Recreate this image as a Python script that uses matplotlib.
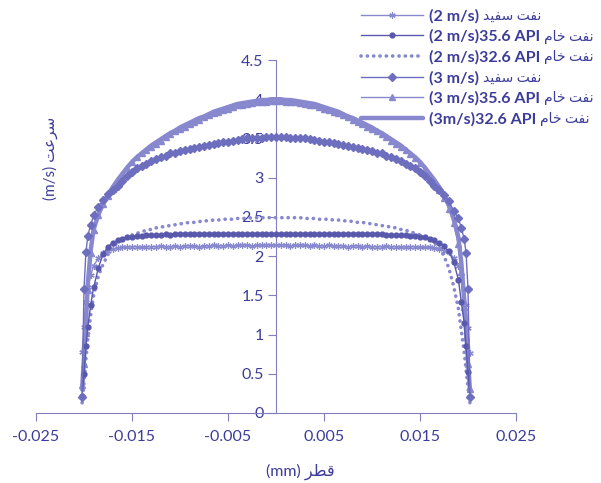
import matplotlib
matplotlib.use("Agg")
import matplotlib.pyplot as plt

# diameter positions (as plotted on the x axis)
x_pos = [-0.0202, -0.0200, -0.0198, -0.0196, -0.0193, -0.0190, -0.0185, -0.0180, -0.0175, -0.0170,
         -0.0165, -0.0160, -0.0155, -0.0150, -0.0145, -0.0140, -0.0135, -0.0130, -0.0125, -0.0120,
         -0.0115, -0.0110, -0.0105, -0.0100, -0.0095, -0.0090, -0.0085, -0.0080, -0.0075, -0.0070,
         -0.0065, -0.0060, -0.0055, -0.0050, -0.0045, -0.0040, -0.0035, -0.0030, -0.0025, -0.0020,
         -0.0015, -0.0010, -0.0005, 0.0, 0.0005, 0.0010, 0.0015, 0.0020, 0.0025, 0.0030,
         0.0035, 0.0040, 0.0045, 0.0050, 0.0055, 0.0060, 0.0065, 0.0070, 0.0075, 0.0080,
         0.0085, 0.0090, 0.0095, 0.0100, 0.0105, 0.0110, 0.0115, 0.0120, 0.0125, 0.0130,
         0.0135, 0.0140, 0.0145, 0.0150, 0.0155, 0.0160, 0.0165, 0.0170, 0.0175, 0.0180,
         0.0185, 0.0190, 0.0193, 0.0196, 0.0198, 0.0200, 0.0202]

white_2 = [0.78, 1.10, 1.42, 1.60, 1.76, 1.88, 1.97, 2.04, 2.07, 2.09,
           2.10, 2.11, 2.11, 2.12, 2.12, 2.11, 2.12, 2.12, 2.12, 2.13,
           2.12, 2.12, 2.13, 2.12, 2.13, 2.13, 2.13, 2.12, 2.13, 2.13,
           2.14, 2.13, 2.13, 2.14, 2.13, 2.14, 2.14, 2.14, 2.13, 2.14,
           2.14, 2.14, 2.14, 2.14, 2.14, 2.14, 2.13, 2.14, 2.14, 2.14,
           2.13, 2.14, 2.13, 2.13, 2.14, 2.13, 2.13, 2.13, 2.12, 2.13,
           2.13, 2.12, 2.13, 2.12, 2.12, 2.12, 2.13, 2.12, 2.12, 2.11,
           2.12, 2.12, 2.12, 2.11, 2.11, 2.11, 2.10, 2.09, 2.07, 2.05,
           1.98, 1.88, 1.75, 1.58, 1.38, 1.08, 0.77]

crude356_2 = [0.22, 0.50, 0.85, 1.10, 1.38, 1.60, 1.85, 2.03, 2.12, 2.17,
              2.20, 2.22, 2.24, 2.25, 2.26, 2.26, 2.27, 2.27, 2.27, 2.27,
              2.28, 2.27, 2.28, 2.28, 2.28, 2.28, 2.28, 2.28, 2.28, 2.28,
              2.28, 2.28, 2.28, 2.28, 2.28, 2.28, 2.28, 2.28, 2.28, 2.28,
              2.28, 2.28, 2.28, 2.28, 2.28, 2.28, 2.28, 2.28, 2.28, 2.28,
              2.28, 2.28, 2.28, 2.28, 2.28, 2.28, 2.28, 2.28, 2.28, 2.28,
              2.28, 2.28, 2.28, 2.28, 2.28, 2.28, 2.27, 2.27, 2.27, 2.27,
              2.27, 2.26, 2.26, 2.25, 2.24, 2.22, 2.20, 2.17, 2.13, 2.06,
              1.93, 1.70, 1.42, 1.15, 0.85, 0.52, 0.20]

crude326_2 = [0.13, 0.38, 0.68, 0.95, 1.25, 1.50, 1.75, 1.90, 2.02, 2.11,
              2.17, 2.21, 2.24, 2.27, 2.29, 2.31, 2.33, 2.34, 2.36, 2.37,
              2.38, 2.39, 2.40, 2.41, 2.42, 2.43, 2.43, 2.44, 2.45, 2.45,
              2.46, 2.46, 2.47, 2.47, 2.47, 2.48, 2.48, 2.48, 2.49, 2.49,
              2.49, 2.49, 2.49, 2.49, 2.49, 2.49, 2.49, 2.49, 2.49, 2.48,
              2.48, 2.48, 2.47, 2.47, 2.47, 2.46, 2.46, 2.45, 2.45, 2.44,
              2.43, 2.43, 2.42, 2.41, 2.40, 2.39, 2.38, 2.37, 2.36, 2.34,
              2.33, 2.31, 2.29, 2.27, 2.24, 2.21, 2.17, 2.11, 2.00, 1.85,
              1.62, 1.33, 1.05, 0.78, 0.55, 0.32, 0.13]

white_3 = [0.20, 1.58, 2.05, 2.26, 2.40, 2.52, 2.63, 2.72, 2.79, 2.84,
           2.90, 2.96, 3.02, 3.07, 3.12, 3.15, 3.18, 3.21, 3.24, 3.26,
           3.28, 3.31, 3.32, 3.34, 3.35, 3.37, 3.38, 3.39, 3.41, 3.42,
           3.43, 3.44, 3.45, 3.46, 3.47, 3.48, 3.49, 3.50, 3.50, 3.51,
           3.51, 3.52, 3.52, 3.52, 3.52, 3.52, 3.51, 3.51, 3.50, 3.50,
           3.49, 3.48, 3.47, 3.46, 3.45, 3.44, 3.43, 3.42, 3.41, 3.39,
           3.38, 3.37, 3.35, 3.34, 3.32, 3.31, 3.28, 3.26, 3.24, 3.21,
           3.18, 3.15, 3.12, 3.07, 3.02, 2.96, 2.90, 2.84, 2.78, 2.70,
           2.58, 2.48, 2.36, 2.22, 2.04, 1.58, 0.20]

crude356_3 = [0.36, 0.62, 1.02, 1.57, 2.04, 2.33, 2.52, 2.67, 2.77, 2.86,
              2.95, 3.03, 3.12, 3.20, 3.26, 3.31, 3.35, 3.39, 3.43, 3.47,
              3.52, 3.56, 3.59, 3.62, 3.65, 3.68, 3.71, 3.74, 3.77, 3.80,
              3.82, 3.84, 3.86, 3.88, 3.90, 3.92, 3.93, 3.94, 3.95, 3.96,
              3.97, 3.97, 3.98, 3.98, 3.98, 3.97, 3.97, 3.96, 3.95, 3.94,
              3.93, 3.92, 3.90, 3.88, 3.86, 3.84, 3.82, 3.80, 3.77, 3.74,
              3.71, 3.68, 3.65, 3.62, 3.59, 3.56, 3.52, 3.47, 3.43, 3.39,
              3.35, 3.30, 3.25, 3.19, 3.11, 3.02, 2.93, 2.84, 2.74, 2.60,
              2.42, 2.15, 1.80, 1.35, 0.97, 0.62, 0.30]

crude326_3 = [0.30, 0.70, 1.15, 1.65, 2.08, 2.34, 2.53, 2.67, 2.78, 2.88,
              2.97, 3.05, 3.13, 3.20, 3.26, 3.31, 3.36, 3.41, 3.45, 3.49,
              3.53, 3.57, 3.60, 3.64, 3.67, 3.70, 3.73, 3.76, 3.78, 3.81,
              3.84, 3.86, 3.88, 3.90, 3.92, 3.94, 3.95, 3.96, 3.97, 3.98,
              3.99, 3.99, 4.00, 4.00, 4.00, 3.99, 3.99, 3.98, 3.97, 3.96,
              3.95, 3.94, 3.92, 3.90, 3.88, 3.86, 3.84, 3.81, 3.78, 3.76,
              3.73, 3.70, 3.67, 3.64, 3.60, 3.57, 3.53, 3.49, 3.45, 3.41,
              3.36, 3.31, 3.26, 3.20, 3.13, 3.05, 2.97, 2.88, 2.78, 2.65,
              2.48, 2.24, 1.92, 1.45, 1.05, 0.65, 0.30]

x_ticks = [-0.025, -0.015, -0.005, 0.005, 0.015, 0.025]
x_ticklabels = ["-0.025", "-0.015", "-0.005", "0.005", "0.015", "0.025"]
y_ticks = [0, 0.5, 1, 1.5, 2, 2.5, 3, 3.5, 4, 4.5]
y_ticklabels = ["0", "0.5", "1", "1.5", "2", "2.5", "3", "3.5", "4", "4.5"]

WHITE_OIL = "نفت سفید"
CRUDE_OIL = "نفت خام"
SPEED = "سرعت"
DIAMETER = "قطر"

# matplotlib has no arabic shaping, so pick the contextual forms by hand
FORMS = {
    'ا': ('\uFE8D', '\uFE8E', None, None),
    'ت': ('\uFE95', '\uFE96', '\uFE97', '\uFE98'),
    'خ': ('\uFEA5', '\uFEA6', '\uFEA7', '\uFEA8'),
    'د': ('\uFEA9', '\uFEAA', None, None),
    'ر': ('\uFEAD', '\uFEAE', None, None),
    'س': ('\uFEB1', '\uFEB2', '\uFEB3', '\uFEB4'),
    'ط': ('\uFEC1', '\uFEC2', '\uFEC3', '\uFEC4'),
    'ع': ('\uFEC9', '\uFECA', '\uFECB', '\uFECC'),
    'ف': ('\uFED1', '\uFED2', '\uFED3', '\uFED4'),
    'ق': ('\uFED5', '\uFED6', '\uFED7', '\uFED8'),
    'م': ('\uFEE1', '\uFEE2', '\uFEE3', '\uFEE4'),
    'ن': ('\uFEE5', '\uFEE6', '\uFEE7', '\uFEE8'),
    'ی': ('\uFEEF', '\uFEF0', '\uFEF3', '\uFEF4'),
}


def shape(word):
    out = []
    for i, ch in enumerate(word):
        if ch not in FORMS:
            out.append(ch)
            continue
        prev = word[i-1] if i > 0 else ''
        nxt = word[i+1] if i+1 < len(word) else ''
        join_prev = prev in FORMS and FORMS[prev][2] is not None
        join_next = nxt in FORMS and FORMS[ch][2] is not None
        iso, fin, ini, med = FORMS[ch]
        if join_prev and join_next:
            out.append(med)
        elif join_prev:
            out.append(fin)
        elif join_next:
            out.append(ini)
        else:
            out.append(iso)
    return ''.join(reversed(out))


TEXT = "#3C3C9A"
LIGHT = "#8888CF"
MID = "#6E6EBF"
DARK = "#5858AC"
AXIS = "#8080C0"
FONT = ['Lato', 'DejaVu Sans']

plt.rcParams['font.family'] = FONT

fig = plt.figure(figsize=(6.01, 4.83), dpi=100)
ax = fig.add_axes([36/601, 70/483, 480/601, 353/483])

ax.plot(x_pos, crude326_3, color=LIGHT, linewidth=3.2, solid_capstyle='round', zorder=2,
        label="(3m/s)32.6 API")
ax.plot(x_pos, white_2, color=LIGHT, linewidth=1, marker=(6, 2, 0), markersize=4.5,
        markeredgewidth=0.9, zorder=3, label="(2 m/s)")
ax.plot(x_pos, crude356_2, color=DARK, linewidth=1, marker='o', markersize=3.5, zorder=4,
        label="(2 m/s)35.6 API")
ax.plot(x_pos, crude326_2, color=LIGHT, linewidth=2.6, linestyle=(0, (0.05, 1.7)),
        dash_capstyle='round', zorder=3, label="(2 m/s)32.6 API")
ax.plot(x_pos, white_3, color=MID, linewidth=1, marker='D', markersize=4.4, zorder=4,
        label="(3 m/s)")
ax.plot(x_pos, crude356_3, color=LIGHT, linewidth=1, marker='^', markersize=5, zorder=3,
        label="(3 m/s)35.6 API")
farsi = [WHITE_OIL, CRUDE_OIL, CRUDE_OIL, WHITE_OIL, CRUDE_OIL, CRUDE_OIL]

ax.set_xlim(-0.025, 0.025)
ax.set_ylim(0, 4.5)

for side in ['top', 'right']:
    ax.spines[side].set_visible(False)
ax.spines['left'].set_position(('data', 0))
ax.spines['left'].set_color(AXIS)
ax.spines['bottom'].set_color(AXIS)

ax.set_xticks(x_ticks)
ax.set_xticklabels(x_ticklabels)
ax.set_yticks(y_ticks)
ax.set_yticklabels(y_ticklabels)
ax.tick_params(axis='both', colors=AXIS, labelcolor=TEXT, labelsize=11.5, length=6, direction='out')
ax.tick_params(axis='x', pad=6)
ax.tick_params(axis='y', pad=3)

ax.text(0.03, 0.72, "(m/s) " + shape(SPEED), rotation=90, transform=ax.transAxes,
        ha='center', va='center', color=TEXT, fontsize=11)
fig.text(300/601, 1 - 472/483, "(mm) " + shape(DIAMETER), ha='center', va='center',
         color=TEXT, fontsize=11.5)

handles, labels = ax.get_legend_handles_labels()
order = [1, 2, 3, 4, 5, 0]
leg = ax.legend([handles[i] for i in order], [labels[i] for i in order],
                loc='upper left', bbox_to_anchor=(361/601, 1 - 9/483), bbox_transform=fig.transFigure,
                frameon=False, borderpad=0, borderaxespad=0, handlelength=3.9, handletextpad=0.35,
                labelspacing=0.38, prop={'weight': 'bold', 'size': 11.5, 'family': FONT})
for t in leg.get_texts():
    t.set_color(TEXT)

# farsi part of each legend entry, in regular weight after the latin part
fig.canvas.draw()
for t, word in zip(leg.get_texts(), farsi):
    bb = t.get_window_extent()
    fig.text((bb.x1 + 4) / 601, (bb.y0 + bb.y1) / 2 / 483, shape(word), ha='left', va='center',
             color=TEXT, fontsize=10, family=FONT)

fig.savefig("out.png", dpi=100)
